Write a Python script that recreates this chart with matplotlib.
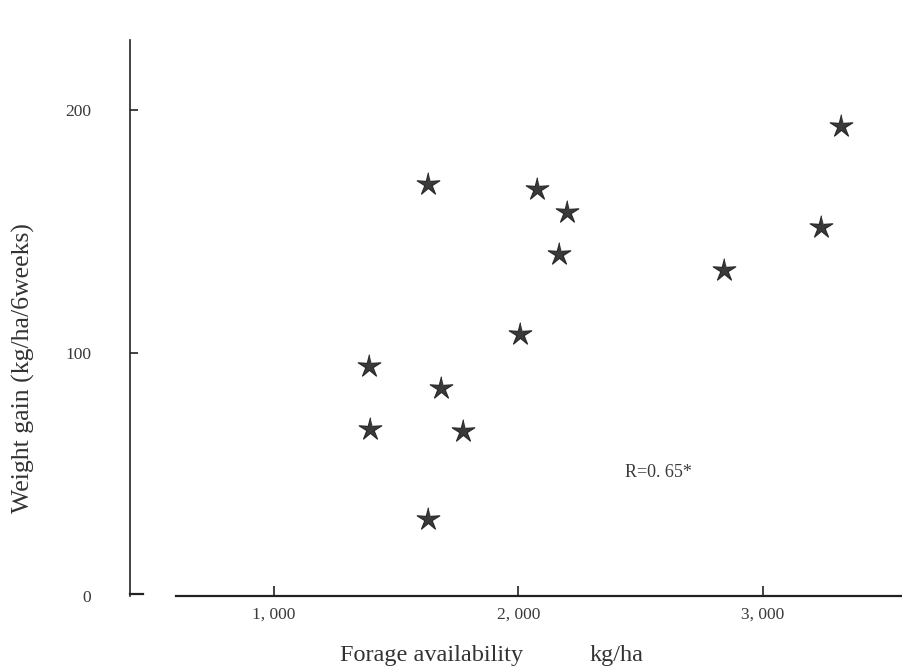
import numpy as np
import matplotlib.pyplot as plt
import matplotlib.ticker as mticker

# forage availability (kg/ha) vs weight gain (kg/ha/6weeks)
forage = [1630, 2076, 2199, 2166, 2006, 1389, 1683, 1393, 1773, 1630, 2840, 3237, 3319]
gain = [169.5, 167.5, 158, 140.7, 107.8, 94.6, 85.6, 68.7, 67.9, 31.7, 134.2, 151.9, 193.4]

xticks = [1000, 2000, 3000]
yticks = [0, 100, 200]

plt.rcParams['font.family'] = ['Liberation Serif', 'DejaVu Serif']

# thin five-pointed star marker shape
ang = np.pi / 2 + np.arange(10) * np.pi / 5
rad = np.where(np.arange(10) % 2 == 0, 1.0, 0.32)
star = list(zip(rad * np.cos(ang), rad * np.sin(ang)))

fig = plt.figure(figsize=(9.03, 6.69), dpi=100)
W, H = 903, 669
# axes box in pixels: left 130, right 903, top 40, bottom 596
ax = fig.add_axes([130 / W, 1 - 596 / H, (903 - 130) / W, (596 - 40) / H])

ax.plot(forage, gain, linestyle='none', marker=star, ms=17,
        color='#3a3a3a', markeredgecolor='#2a2a2a', markeredgewidth=0.9)

ax.set_xlim(411, 3573)
ax.set_ylim(0, 228.8)

for s in ['top', 'right']:
    ax.spines[s].set_visible(False)
ax.spines['left'].set_linewidth(1.2)
ax.spines['left'].set_color('#222222')
ax.spines['bottom'].set_linewidth(1.6)
ax.spines['bottom'].set_color('#222222')
ax.spines['bottom'].set_bounds(599, 3573)
# short foot at the bottom of the y axis
ax.plot([411, 464], [0.8, 0.8], color='#222222', lw=1.6, clip_on=False)

ax.set_xticks(xticks)
ax.xaxis.set_major_formatter(mticker.FuncFormatter(lambda v, p: f"{int(v):,}".replace(",", ", ")))
ax.set_yticks(yticks)
ax.tick_params(axis='x', direction='in', length=7, width=1.2, color='#222222',
               labelsize=12.5, labelcolor='#3a3a3a', pad=8)
ax.tick_params(axis='y', direction='in', length=6, width=1.2, color='#222222',
               labelsize=12.5, labelcolor='#3a3a3a', pad=28)
ax.yaxis.get_major_ticks()[0].tick1line.set_visible(False)

ax.text(2436, 51, "R=0. 65*", fontsize=13, color='#3a3a3a', va='center')

fig.text(340 / W, 1 - 656 / H, "Forage availability", fontsize=17.5, color='#333333', va='center')
fig.text(590 / W, 1 - 656 / H, "kg/ha", fontsize=17.5, color='#333333', va='center')
fig.text(23 / W, 1 - 368 / H, "Weight gain (kg/ha/6weeks)", fontsize=18.5, color='#333333',
         rotation=90, ha='center', va='center')

fig.savefig("out.png", dpi=100)
